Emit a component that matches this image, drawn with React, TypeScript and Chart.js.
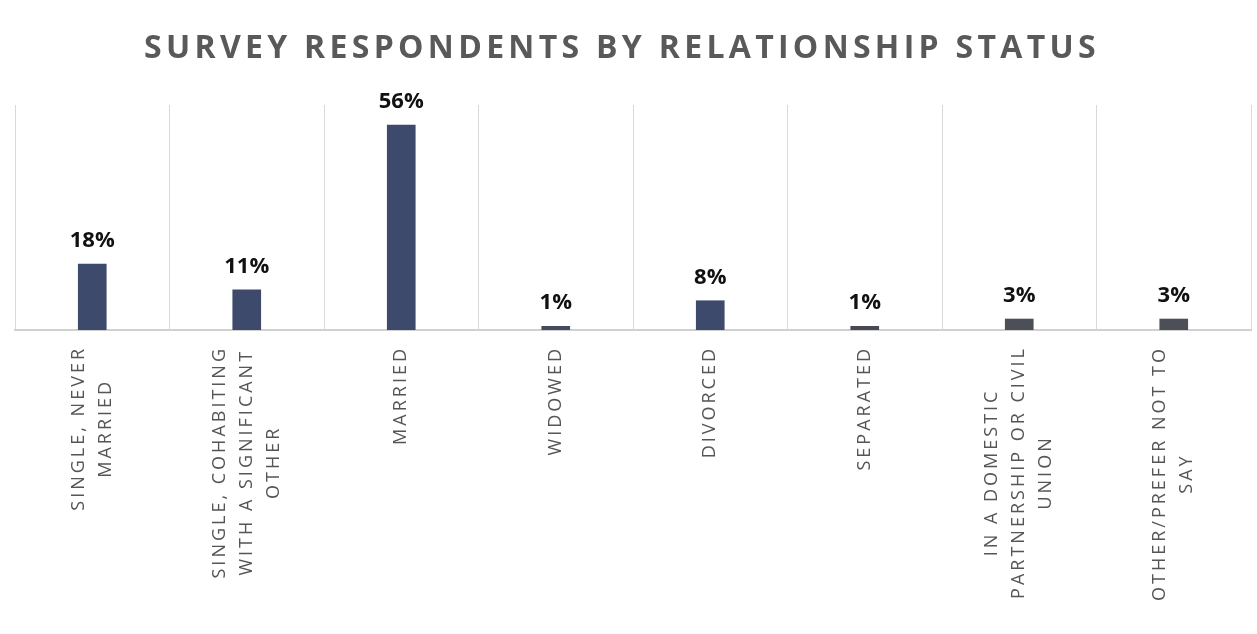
import React, { useEffect, useRef } from "react";
import { Chart, registerables } from "chart.js";

Chart.register(...registerables);

const chartTitle = "SURVEY RESPONDENTS BY RELATIONSHIP STATUS";
const categories: string[][] = [
  ["SINGLE, NEVER", "MARRIED"],
  ["SINGLE, COHABITING", "WITH A SIGNIFICANT", "OTHER"],
  ["MARRIED"],
  ["WIDOWED"],
  ["DIVORCED"],
  ["SEPARATED"],
  ["IN A DOMESTIC", "PARTNERSHIP OR CIVIL", "UNION"],
  ["OTHER/PREFER NOT TO", "SAY"],
];
const values = [18, 11, 56, 1, 8, 1, 3, 3];
const valueLabels = ["18%", "11%", "56%", "1%", "8%", "1%", "3%", "3%"];

const barColors = ["#3e4a6b", "#3e4a6b", "#3e4a6b", "#454b5c", "#3e4a6b", "#474a55", "#4d4f56", "#4d4f56"];

const W = 1257;
const H = 634;

const overlayPlugin = {
  id: "overlay",
  afterDraw(chart: any) {
    const ctx: CanvasRenderingContext2D = chart.ctx;
    const xs = chart.scales.x;
    const meta = chart.getDatasetMeta(0);
    // Title
    ctx.save();
    (ctx as any).letterSpacing = "4.3px";
    ctx.font = "bold 32px 'Open Sans'";
    ctx.fillStyle = "#595959";
    ctx.textAlign = "center";
    ctx.textBaseline = "alphabetic";
    ctx.fillText(chartTitle, 622, 58);
    ctx.restore();

    // value labels
    ctx.save();
    ctx.font = "bold 22px 'Open Sans'";
    ctx.fillStyle = "#111111";
    ctx.textAlign = "center";
    ctx.textBaseline = "alphabetic";
    meta.data.forEach((bar: any, i: number) => {
      ctx.fillText(valueLabels[i], bar.x, bar.y - 17);
    });
    ctx.restore();

    // category labels (rotated)
    ctx.save();
    (ctx as any).letterSpacing = "3px";
    ctx.font = "18px 'Open Sans'";
    ctx.fillStyle = "#555555";
    ctx.textAlign = "center";
    ctx.textBaseline = "middle";
    const lineH = 27;
    categories.forEach((lines, i) => {
      const cx = xs.getPixelForValue(i);
      const maxW = Math.max(...lines.map((l) => ctx.measureText(l).width));
      ctx.save();
      ctx.translate(cx, 346);
      ctx.rotate(-Math.PI / 2);
      lines.forEach((l, j) => {
        ctx.fillText(l, -maxW / 2, (j - (lines.length - 1) / 2) * lineH);
      });
      ctx.restore();
    });
    ctx.restore();
  },
};

export default function App() {
  const ref = useRef<HTMLCanvasElement>(null);
  useEffect(() => {
    if (!ref.current) return;
    const chart = new Chart(ref.current, {
      type: "bar",
      data: {
        labels: categories.map((c) => c.join(" ")),
        datasets: [
          {
            data: values,
            backgroundColor: barColors,
            borderWidth: 0,
            barThickness: 28,
          },
        ],
      },
      options: {
        animation: false,
        responsive: false,
        layout: { padding: { left: 15, right: 6, top: 105, bottom: 304 } },
        plugins: {
          legend: { display: false },
          title: { display: false },
          tooltip: { enabled: false },
        },
        scales: {
          x: {
            offset: true,
            grid: {
              display: true,
              offset: true,
              color: "#d9d9d9",
              lineWidth: 1,
              drawTicks: false,
            },
            border: { display: true, color: "#d0d0d0", width: 2 },
            ticks: { display: false },
          },
          y: {
            display: false,
            min: 0,
            max: 61.5,
          },
        },
      },
      plugins: [overlayPlugin],
    });
    return () => chart.destroy();
  }, []);
  return (
    <div style={{ position: "absolute", left: 0, top: 0, width: W, height: H, background: "#fff" }}>
      <canvas ref={ref} width={W} height={H} style={{ width: W, height: H }} />
    </div>
  );
}
